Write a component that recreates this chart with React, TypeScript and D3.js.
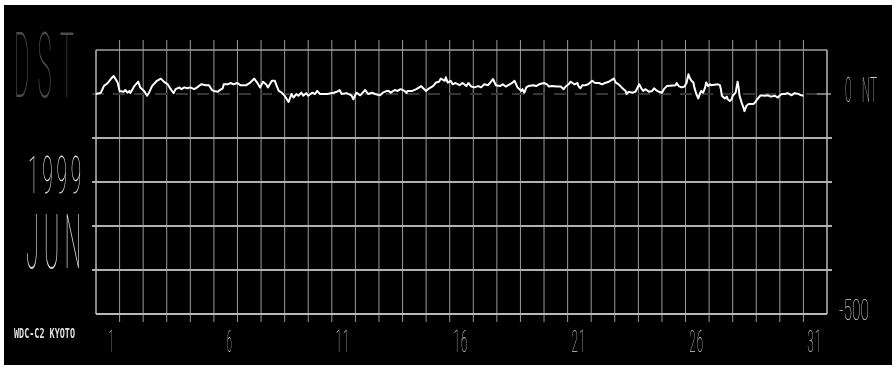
import * as d3 from 'd3';

// hourly Dst samples (hours since 1 June 00UT, nT)
const hours = [
  0, 5, 8, 12, 15, 18, 22, 24, 28, 30, 32, 34, 35, 39, 43, 45, 49, 52, 54, 57, 62, 66, 69, 73,
  76, 79, 81, 85, 87, 90, 93, 96, 100, 103, 107, 112, 115, 118, 120, 124, 126, 129, 130, 134,
  137, 140, 144, 147, 150, 153, 157, 161, 164, 167, 170, 173, 175, 179, 182, 184, 186, 189, 192,
  196, 199, 201, 204, 206, 209, 211, 214, 216, 220, 223, 225, 228, 235, 242, 245, 248, 250, 255,
  260, 262, 265, 269, 274, 277, 281, 284, 289, 292, 296, 298, 300, 304, 307, 310, 314, 316, 317,
  322, 326, 329, 331, 333, 336, 339, 343, 346, 349, 351, 355, 356, 358, 361, 363, 366, 370, 373,
  377, 379, 382, 385, 389, 392, 395, 399, 401, 404, 407, 411, 414, 417, 421, 424, 426, 429, 433,
  434, 436, 438, 440, 445, 448, 451, 456, 459, 461, 464, 469, 473, 476, 478, 481, 483, 485, 487,
  490, 491, 493, 495, 498, 501, 505, 508, 512, 515, 518, 522, 525, 527, 529, 532, 535, 539, 540,
  542, 546, 549, 552, 553, 555, 557, 559, 563, 566, 568, 570, 573, 576, 578, 581, 590, 591, 593,
  596, 599, 601, 603, 604, 606, 608, 609, 611, 613, 615, 616, 618, 620, 621, 623, 625, 626, 633,
  635, 636, 637, 640, 642, 643, 645, 647, 648, 651, 653, 654, 655, 657, 659, 660, 662, 664, 669,
  671, 673, 676, 677, 681, 684, 687, 691, 694, 696, 698, 701, 704, 708, 711, 715, 718, 720,
];
const dst = [
  0, 3, 18, 25, 34, 41, 26, 7, 5, 9, 3, 7, 2, 18, 28, 15, 7, -4, 3, 18, 30, 35, 28, 22,
  11, 2, 11, 15, 11, 15, 13, 15, 11, 15, 22, 20, 20, 9, 7, 5, 9, 13, 22, 22,
  25, 22, 25, 20, 20, 20, 26, 35, 26, 15, 28, 22, 15, 30, 30, 18, 7, 3, -4,
  -18, 0, -8, 0, -4, 3, -4, 2, -4, 3, 0, 7, 0, 0, 3, 5, 9, 0, 2,
  -3, -12, 3, -3, 9, 0, 3, 0, -3, 3, 7, 7, 3, 9, 7, 11, 7, 2, 7,
  7, 11, 15, 18, 13, 7, 13, 18, 26, 28, 35, 30, 38, 26, 30, 22, 25, 20, 25,
  18, 25, 17, 15, 18, 15, 22, 20, 25, 34, 20, 18, 22, 17, 22, 26, 30, 15, 7,
  11, 3, 15, 18, 20, 18, 22, 25, 22, 17, 18, 17, 17, 11, 17, 22, 28, 25, 22,
  25, 18, 13, 20, 20, 22, 30, 25, 25, 22, 25, 28, 32, 35, 26, 22, 15, 7, 0,
  5, 3, 5, 18, 22, 13, 7, 11, 5, 7, 13, 9, 5, 3, 11, 18, 20, 25, 18,
  15, 17, 25, 45, 38, 30, 26, 15, 0, -10, 3, 7, 3, 15, 26, 18, 22, 20, 22,
  20, 11, -4, -10, -6, -12, -16, -12, -4, 3, 28, 15, -4, -19, -31, -39, -27, -23, -23,
  -19, -12, -4, -3, -4, -3, -6, -4, -8, -3, 0, 0, 2, -3, 2, 0, -3, -4,
];

const dayLabels = [1, 6, 11, 16, 21, 26, 31];
const gridLevels = [-100, -200, -300, -400];
const DAYS_SHOWN = 31;

const W = 896;
const H = 368;
const left = 96;
const right = 827;
const top = 50;
const bottom = 314;

const FONT = 'Roboto, "DejaVu Sans", sans-serif';

function CondText(props: {
  x: number;
  y: number;
  text: string;
  size: number;
  width: number;
  fill: string;
  anchor?: string;
  spacing?: number;
  wordSpacing?: number;
  family?: string;
  weight?: number | string;
}) {
  const {
    x, y, text, size, width, fill,
    anchor = 'start', spacing = 0, wordSpacing = 0, family = FONT, weight = 100,
  } = props;
  return (
    <text
      x={x}
      y={y}
      fontSize={size}
      fontFamily={family}
      fontWeight={weight}
      fill={fill}
      textAnchor={anchor}
      letterSpacing={spacing}
      wordSpacing={wordSpacing}
      textLength={width}
      lengthAdjust='spacingAndGlyphs'
      xmlSpace='preserve'
    >
      {text}
    </text>
  );
}

export default function App() {
  const x = d3.scaleLinear().domain([0, DAYS_SHOWN * 24]).range([left, right]);
  const y = d3.scaleLinear().domain([100, -500]).range([top, bottom]);

  const points = hours.map((h, i) => [h, dst[i]] as [number, number]);
  const line = d3
    .line<[number, number]>()
    .x((d) => x(d[0]))
    .y((d) => y(d[1]));

  const dayBounds = d3.range(1, DAYS_SHOWN);

  return (
    <>
      <style>{'body{margin:0;background:#fff}'}</style>
      <svg width={W} height={H} style={{ display: 'block' }}>
        <rect x={4} y={5} width={888} height={360} fill='#000' />

        {/* day grid */}
        {dayBounds.map((d) => (
          <line
            key={d}
            x1={x(d * 24)}
            x2={x(d * 24)}
            y1={top - 10}
            y2={bottom + 8}
            stroke='#9a9a9a'
            strokeWidth={1}
          />
        ))}

        {/* level grid */}
        {gridLevels.map((v) => (
          <line
            key={v}
            x1={left - 4}
            x2={right + 5}
            y1={y(v)}
            y2={y(v)}
            stroke='#b0b0b0'
            strokeWidth={2}
          />
        ))}

        {/* zero level */}
        <line
          x1={left - 4}
          x2={right}
          y1={y(0)}
          y2={y(0)}
          stroke='#363636'
          strokeWidth={2}
          strokeDasharray='12 9'
        />
        <line x1={right - 10} x2={right + 4} y1={y(0)} y2={y(0)} stroke='#777' strokeWidth={2} />

        {/* frame */}
        <line x1={left} x2={right} y1={top} y2={top} stroke='#a0a0a0' strokeWidth={1.5} />
        <line x1={left} x2={right} y1={bottom} y2={bottom} stroke='#b8b8b8' strokeWidth={2} />
        <line x1={left} x2={left} y1={top} y2={bottom} stroke='#b8b8b8' strokeWidth={1.5} />
        <line x1={right} x2={right} y1={top} y2={bottom} stroke='#b8b8b8' strokeWidth={1.5} />

        <path d={line(points) ?? ''} fill='none' stroke='#fff' strokeWidth={2} strokeLinejoin='round' />

        <g style={{ filter: 'grayscale(1)' }}>
          {/* titles */}
          <CondText x={14} y={97} text='DST' size={90} width={68} fill='#4c4c4c' spacing={30} />
          <CondText x={28} y={193} text='1999' size={51} width={57} fill='#dcdcdc' spacing={10} />
          <CondText x={26} y={268} text='JUN' size={76} width={60} fill='#dcdcdc' spacing={16} />
          <CondText
            x={14}
            y={338}
            text='WDC-C2 KYOTO'
            size={14}
            width={61}
            fill='#e0e0e0'
            family='"DejaVu Sans Mono", monospace'
            weight={700}
          />

          {/* axis labels, right-aligned just past each day's centre */}
          {dayLabels.map((d) => (
            <CondText
              key={d}
              x={x((d - 1) * 24 + 12) + 7}
              y={352}
              text={String(d)}
              size={31}
              width={String(d).length > 1 ? 15 : 6}
              fill='#cfcfcf'
              anchor='end'
              spacing={3}
            />
          ))}
          <CondText x={845} y={102} text='0 NT' size={35} width={32} fill='#cfcfcf' wordSpacing={22} />
          <CondText x={839} y={320} text='-500' size={30} width={30} fill='#cfcfcf' />
        </g>
      </svg>
    </>
  );
}
